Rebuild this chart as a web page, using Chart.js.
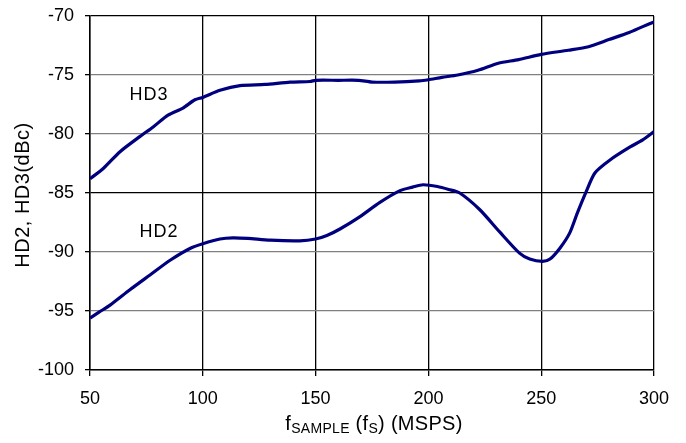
<!DOCTYPE html>
<html>
<head>
<meta charset="utf-8">
<script src="https://cdn.jsdelivr.net/npm/chart.js@4"></script>
<style>
  html, body { margin: 0; padding: 0; background: #fff; }
  #wrap { width: 686px; height: 443px; }
</style>
</head>
<body>
<div id="wrap"><canvas id="myChart" width="686" height="443"></canvas></div>
<script>
// values (MSPS, dBc)
var hd3Freq = [50, 56, 63.3, 72.2, 78, 84.6, 91.2, 96.5, 100, 107.6, 116.5, 127.6, 138.7, 147.5, 150, 160, 169, 175, 185, 196, 200, 206, 213, 222, 231, 240, 250, 262, 271, 280, 289, 295, 300];
var hd3 = [-83.8, -82.9, -81.5, -80.2, -79.4, -78.4, -77.8, -77.1, -76.9, -76.3, -75.9, -75.8, -75.6, -75.55, -75.45, -75.45, -75.45, -75.6, -75.6, -75.5, -75.4, -75.2, -75.0, -74.6, -74.0, -73.7, -73.25, -72.9, -72.6, -72.0, -71.4, -70.9, -70.5];

var hd2Freq = [50, 54, 58.9, 67.7, 76.6, 85.5, 94.3, 100, 107.6, 113.4, 120, 129.8, 143, 150, 155, 160.8, 169.7, 178.5, 187.4, 193, 197.6, 204, 209, 213.9, 222.7, 231.6, 240.4, 244.9, 250.6, 253.9, 258.2, 262.6, 266, 269.9, 273.8, 280.5, 289.4, 295, 300];
var hd2 = [-95.6, -95.1, -94.5, -93.2, -91.95, -90.7, -89.7, -89.3, -88.9, -88.8, -88.85, -89.0, -89.05, -88.9, -88.6, -88.05, -87.0, -85.8, -84.8, -84.5, -84.3, -84.45, -84.7, -85.0, -86.4, -88.3, -90.1, -90.6, -90.8, -90.6, -89.7, -88.4, -86.7, -84.9, -83.3, -82.2, -81.1, -80.5, -79.8];

var xTicks = [50, 100, 150, 200, 250, 300];
var yTicks = [-100, -95, -90, -85, -80, -75, -70];

var curveLabels = [
    { text: "HD3", x: 76.2, y: -76.7 },
    { text: "HD2", x: 80.6, y: -88.3 }
];
var yTitle = "HD2, HD3(dBc)";

var lineColor = "#00007f";
var fontName = "'Liberation Sans', Arial, sans-serif";

function toPoints(xs, ys) {
    return xs.map((v, i) => ({ x: v, y: ys[i] }));
}

// curve labels, y title and the subscripted x title
var extras = {
    id: "extras",
    afterDraw(chart) {
        const ctx = chart.ctx;
        const xs = chart.scales.x;
        const ys = chart.scales.y;
        const area = chart.chartArea;
        ctx.save();
        ctx.fillStyle = "#000";
        ctx.font = "18px " + fontName;
        ctx.letterSpacing = "1px";
        ctx.textAlign = "center";
        ctx.textBaseline = "middle";
        curveLabels.forEach(l => {
            ctx.fillText(l.text, xs.getPixelForValue(l.x), ys.getPixelForValue(l.y));
        });

        // y title, rotated
        ctx.save();
        ctx.font = "20px " + fontName;
        ctx.letterSpacing = "0.5px";
        ctx.translate(23, (area.top + area.bottom) / 2 + 2);
        ctx.rotate(-Math.PI / 2);
        ctx.fillText(yTitle, 0, 0);
        ctx.restore();

        // x axis title: f_SAMPLE (f_S) (MSPS)
        const parts = [
            ["f", 20, 0], ["SAMPLE", 14, 3], [" (f", 20, 0], ["S", 14, 3], [") (MSPS)", 20, 0]
        ];
        ctx.letterSpacing = "0.3px";
        let total = 0;
        parts.forEach(p => {
            ctx.font = p[1] + "px " + fontName;
            total += ctx.measureText(p[0]).width;
        });
        let cx = (area.left + area.right) / 2 + 2 - total / 2;
        const base = 430;
        ctx.textAlign = "left";
        ctx.textBaseline = "alphabetic";
        parts.forEach(p => {
            ctx.font = p[1] + "px " + fontName;
            ctx.fillText(p[0], cx, base + p[2]);
            cx += ctx.measureText(p[0]).width;
        });
        ctx.restore();
    }
};

var data = {
    datasets: [
        {
            label: "HD3",
            data: toPoints(hd3Freq, hd3),
            borderColor: lineColor,
            borderWidth: 3.2,
            pointRadius: 0,
            tension: 0.25,
            fill: false
        },
        {
            label: "HD2",
            data: toPoints(hd2Freq, hd2),
            borderColor: lineColor,
            borderWidth: 3.2,
            pointRadius: 0,
            tension: 0.25,
            fill: false
        }
    ]
};

const config = {
    type: "line",
    data: data,
    options: {
        animation: false,
        responsive: false,
        layout: { padding: { top: 16, right: 32, left: 0, bottom: 0 } },
        plugins: {
            legend: { display: false },
            tooltip: { enabled: false }
        },
        scales: {
            x: {
                type: "linear",
                min: 50,
                max: 300,
                afterBuildTicks: s => { s.ticks = xTicks.map(v => ({ value: v })); },
                afterFit: s => { s.height = 73; },
                border: { color: "#000", width: 1.5 },
                grid: { color: "#000", lineWidth: 1.3, tickLength: 6, tickColor: "#000" },
                ticks: {
                    color: "#000",
                    padding: 12,
                    maxRotation: 0,
                    font: { family: fontName, size: 18 }
                }
            },
            y: {
                min: -100,
                max: -70,
                afterBuildTicks: s => { s.ticks = yTicks.map(v => ({ value: v })); },
                afterFit: s => { s.width = 90; s.paddingTop = 0; s.paddingBottom = 0; },
                border: { color: "#000", width: 1.5 },
                grid: {
                    color: c => (c.tick && (c.tick.value === -70 || c.tick.value === -85)) ? "#000" : "#808080",
                    lineWidth: 1.3,
                    tickLength: 5,
                    tickColor: "#000"
                },
                ticks: {
                    color: "#000",
                    padding: 11,
                    font: { family: fontName, size: 18 }
                }
            }
        }
    },
    plugins: [extras]
};

const myChart = new Chart(document.getElementById("myChart"), config);
</script>
</body>
</html>
